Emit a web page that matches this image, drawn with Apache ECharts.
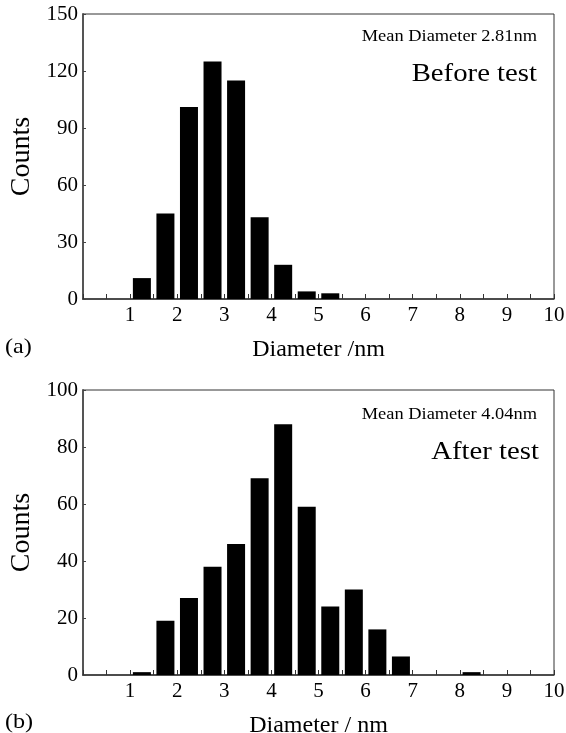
<!DOCTYPE html>
<html>
<head>
<meta charset="utf-8">
<script src="https://cdn.jsdelivr.net/npm/echarts@6/dist/echarts.min.js"></script>
<style>
  html, body {margin: 0; padding: 0; background: #fff;}
  #chart {width: 566px; height: 733px;}
</style>
</head>
<body>
<div id="chart"></div>
<script>
// bin centres (nm), bin width 0.5
const binsBefore = [1.25, 1.75, 2.25, 2.75, 3.25, 3.75, 4.25, 4.75, 5.25];
const countsBefore = [11, 45, 101, 125, 115, 43, 18, 4, 3];

const binsAfter = [1.25, 1.75, 2.25, 2.75, 3.25, 3.75, 4.25, 4.75, 5.25, 5.75, 6.25, 6.75, 8.25];
const countsAfter = [1, 19, 27, 38, 46, 69, 88, 59, 24, 30, 16, 6.5, 1];

const yTicksBefore = [0, 30, 60, 90, 120, 150];
const yTicksAfter = [0, 20, 40, 60, 80, 100];

const serif = '"Liberation Serif", "DejaVu Serif", serif';
// the source picture is a little wider than tall, text looks stretched
const stretch = 1.15;

function pairs(xs, ys) {
  return xs.map((x, i) => [x, ys[i]]);
}

function xAxisFor(gridIndex, name) {
  return {
    type: 'value',
    gridIndex: gridIndex,
    min: 0,
    max: 10,
    interval: 0.5,
    name: name,
    nameLocation: 'middle',
    nameGap: 39,
    nameTextStyle: {fontFamily: serif, fontSize: 24, color: '#000'},
    axisLine: {lineStyle: {color: '#333', width: 1.5}},
    axisTick: {inside: true, length: 5, lineStyle: {color: '#333'}},
    axisLabel: {
      margin: 6,
      fontFamily: serif,
      fontSize: 21,
      color: '#000',
      formatter: v => (v > 0 && Number.isInteger(v)) ? String(v) : ''
    },
    splitLine: {show: false}
  };
}

function yAxisFor(gridIndex, ticks) {
  return {
    type: 'value',
    gridIndex: gridIndex,
    min: ticks[0],
    max: ticks[ticks.length - 1],
    interval: ticks[1] - ticks[0],
    name: 'Counts',
    nameLocation: 'middle',
    nameGap: 47,
    nameTextStyle: {fontFamily: serif, fontSize: 28, color: '#000'},
    axisLine: {show: true, lineStyle: {color: '#555', width: 2}},
    axisTick: {show: true, inside: true, length: 3, lineStyle: {color: '#444'}},
    axisLabel: {margin: 5, fontFamily: serif, fontSize: 21, color: '#000'},
    splitLine: {show: false}
  };
}

function label(text, x, y, size, align) {
  return {
    type: 'text',
    x: x,
    y: y,
    scaleX: stretch,
    style: {text: text, font: size + 'px ' + serif, fill: '#000', align: align, verticalAlign: 'middle'}
  };
}

const myChart = echarts.init(document.getElementById('chart'), null, {renderer: 'canvas'});

const option = {
  animation: false,
  backgroundColor: '#fff',
  grid: [
    {left: 83, top: 14, width: 471, height: 285, outerBoundsMode: 'none', containLabel: false,
      show: true, borderColor: '#333', borderWidth: 1, backgroundColor: 'transparent'},
    {left: 83, top: 390, width: 471, height: 285, outerBoundsMode: 'none', containLabel: false,
      show: true, borderColor: '#333', borderWidth: 1, backgroundColor: 'transparent'}
  ],
  xAxis: [
    xAxisFor(0, 'Diameter /nm'),
    xAxisFor(1, 'Diameter / nm')
  ],
  yAxis: [
    yAxisFor(0, yTicksBefore),
    yAxisFor(1, yTicksAfter)
  ],
  series: [
    {
      name: 'Before test',
      type: 'bar',
      xAxisIndex: 0,
      yAxisIndex: 0,
      barWidth: 18,
      itemStyle: {color: '#000'},
      data: pairs(binsBefore, countsBefore)
    },
    {
      name: 'After test',
      type: 'bar',
      xAxisIndex: 1,
      yAxisIndex: 1,
      barWidth: 18,
      itemStyle: {color: '#000'},
      data: pairs(binsAfter, countsAfter)
    }
  ],
  graphic: [
    label('(a)', 5, 347, 21, 'left'),
    label('(b)', 5, 722, 21, 'left'),
    label('Mean Diameter 2.81nm', 537, 37, 16, 'right'),
    label('Before test', 537, 74, 25, 'right'),
    label('Mean Diameter 4.04nm', 537, 415, 16, 'right'),
    label('After test', 539, 452, 25, 'right')
  ]
};

myChart.setOption(option);
</script>
</body>
</html>
